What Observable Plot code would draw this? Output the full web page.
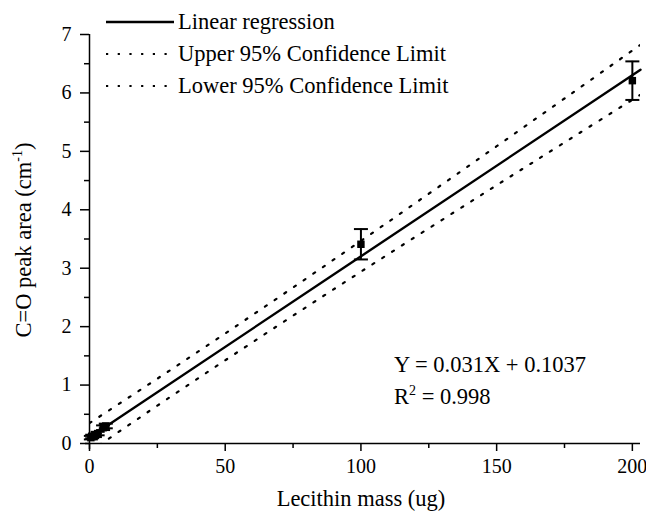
<!DOCTYPE html>
<html>
<head>
<meta charset="utf-8">
<script src="https://cdn.jsdelivr.net/npm/d3@7"></script>
<script src="https://cdn.jsdelivr.net/npm/@observablehq/plot@0.6"></script>
<style>
  html, body { margin: 0; padding: 0; background: #fff; }
  #chart { width: 646px; height: 513px; }
  #chart svg, #chart svg text { font-family: "Liberation Serif", "Times New Roman", "DejaVu Serif", serif !important; fill: #000; }
</style>
</head>
<body>
<div id="chart"></div>
<script>
// ---- data ----
const massX = [0.5, 1, 2, 3, 5, 6, 100, 200];
const peakY = [0.10, 0.12, 0.14, 0.17, 0.27, 0.30, 3.41, 6.21];
const peakErr = [0.03, 0.03, 0.03, 0.03, 0.04, 0.04, 0.26, 0.33];

const fitX = [0, 203];
const fitY = [0.1037, 6.397];

const bandX = [0, 25, 50, 75, 100, 125, 150, 175, 203];
const upperY = [0.349, 1.110, 1.884, 2.670, 3.468, 4.275, 5.088, 5.905, 6.824];
const lowerY = [-0.141, 0.648, 1.424, 2.188, 2.940, 3.683, 4.420, 5.153, 5.970];

const xMajor = [0, 50, 100, 150, 200];
const xMinor = [25, 75, 125, 175];
const yMajor = [0, 1, 2, 3, 4, 5, 6, 7];
const yMinor = [0.5, 1.5, 2.5, 3.5, 4.5, 5.5, 6.5];

const legendLabels = ["Linear regression", "Upper 95% Confidence Limit", "Lower 95% Confidence Limit"];
const xTitle = "Lecithin mass (ug)";
const eqText = "Y = 0.031X + 0.1037";
const r2Text = "= 0.998";

// ---- tables ----
const points = massX.map((x, i) => ({x, y: peakY[i], lo: peakY[i] - peakErr[i], hi: peakY[i] + peakErr[i]}));
const fit = fitX.map((x, i) => ({x, y: fitY[i]}));
const upper = bandX.map((x, i) => ({x, y: upperY[i]}));
const lower = bandX.map((x, i) => ({x, y: lowerY[i]}));

const cap = { draw(ctx, size) { const w = 7; ctx.moveTo(-w, 0); ctx.lineTo(w, 0); } };
const font = "'Liberation Serif', 'Times New Roman', serif";

const chart = Plot.plot({
  width: 646,
  height: 513,
  marginLeft: 89,
  marginRight: 6,
  marginTop: 34,
  marginBottom: 70,
  x: {domain: [0, 203]},
  y: {domain: [0, 7]},
  style: {fontFamily: font, background: "#fff", color: "#000"},
  marks: [
    Plot.axisY({ticks: yMajor, tickSize: 9, tickPadding: 9, fontSize: 20, label: null, strokeWidth: 1.5, tickFormat: d => String(d)}),
    Plot.axisY({ticks: yMinor, tickSize: 5, label: null, strokeWidth: 1.5, tickFormat: () => ""}),
    Plot.axisX({ticks: xMajor, tickSize: 8, tickPadding: 7, fontSize: 20, label: null, strokeWidth: 1.5, tickFormat: d => String(d)}),
    Plot.axisX({ticks: xMinor, tickSize: 5, label: null, strokeWidth: 1.5, tickFormat: () => ""}),
    Plot.ruleX([0], {stroke: "#000", strokeWidth: 1.5, insetBottom: -6}),
    Plot.ruleY([0], {stroke: "#000", strokeWidth: 1.5, insetLeft: -4}),
    Plot.line(upper, {x: "x", y: "y", curve: "natural", stroke: "#000", strokeWidth: 2.2, strokeDasharray: "2.2 9.5", clip: true}),
    Plot.line(lower, {x: "x", y: "y", curve: "natural", stroke: "#000", strokeWidth: 2.2, strokeDasharray: "2.2 9.5", clip: true}),
    Plot.line(fit, {x: "x", y: "y", stroke: "#000", strokeWidth: 2.4}),
    Plot.ruleX(points, {x: "x", y1: "lo", y2: "hi", stroke: "#000", strokeWidth: 2}),
    Plot.dot(points, {x: "x", y: "lo", symbol: cap, stroke: "#000", strokeWidth: 2, r: 5}),
    Plot.dot(points, {x: "x", y: "hi", symbol: cap, stroke: "#000", strokeWidth: 2, r: 5}),
    Plot.dot(points, {x: "x", y: "y", symbol: "square", fill: "#000", r: 4.2})
  ]
});

document.getElementById("chart").appendChild(chart);

// ---- annotations: titles, legend, equation ----
const svg = d3.select(chart);
function txt(sel) {
  return sel.style("font-family", font).style("font-size", "22.5px").attr("fill", "#000");
}

// y-axis title with superscript
const yt = txt(svg.append("text"))
  .attr("transform", "translate(31,240) rotate(-90)")
  .attr("text-anchor", "middle");
yt.append("tspan").text("C=O peak area (cm");
yt.append("tspan").style("font-size", "14px").attr("dy", -9).text("-1");
yt.append("tspan").attr("dy", 9).text(")");

// x-axis title
txt(svg.append("text"))
  .attr("x", 361).attr("y", 506)
  .attr("text-anchor", "middle")
  .text(xTitle);

// legend
const legendRows = [22, 54, 86];
legendLabels.forEach((lab, i) => {
  const g = svg.append("g");
  g.append("line")
    .attr("x1", 106).attr("x2", 174)
    .attr("y1", legendRows[i]).attr("y2", legendRows[i])
    .attr("stroke", "#000")
    .attr("stroke-width", i === 0 ? 2.4 : 2.2)
    .attr("stroke-dasharray", i === 0 ? null : "2.2 9.5");
  txt(g.append("text"))
    .attr("x", 178).attr("y", legendRows[i] + 7)
    .attr("text-anchor", "start")
    .text(lab);
});

// equation
txt(svg.append("text"))
  .attr("x", 394).attr("y", 372)
  .attr("text-anchor", "start")
  .text(eqText);
const r2 = txt(svg.append("text"))
  .attr("x", 394).attr("y", 404)
  .attr("text-anchor", "start");
r2.append("tspan").text("R");
r2.append("tspan").style("font-size", "14px").attr("dy", -9).text("2");
r2.append("tspan").attr("dy", 9).text(" " + r2Text);
</script>
</body>
</html>
